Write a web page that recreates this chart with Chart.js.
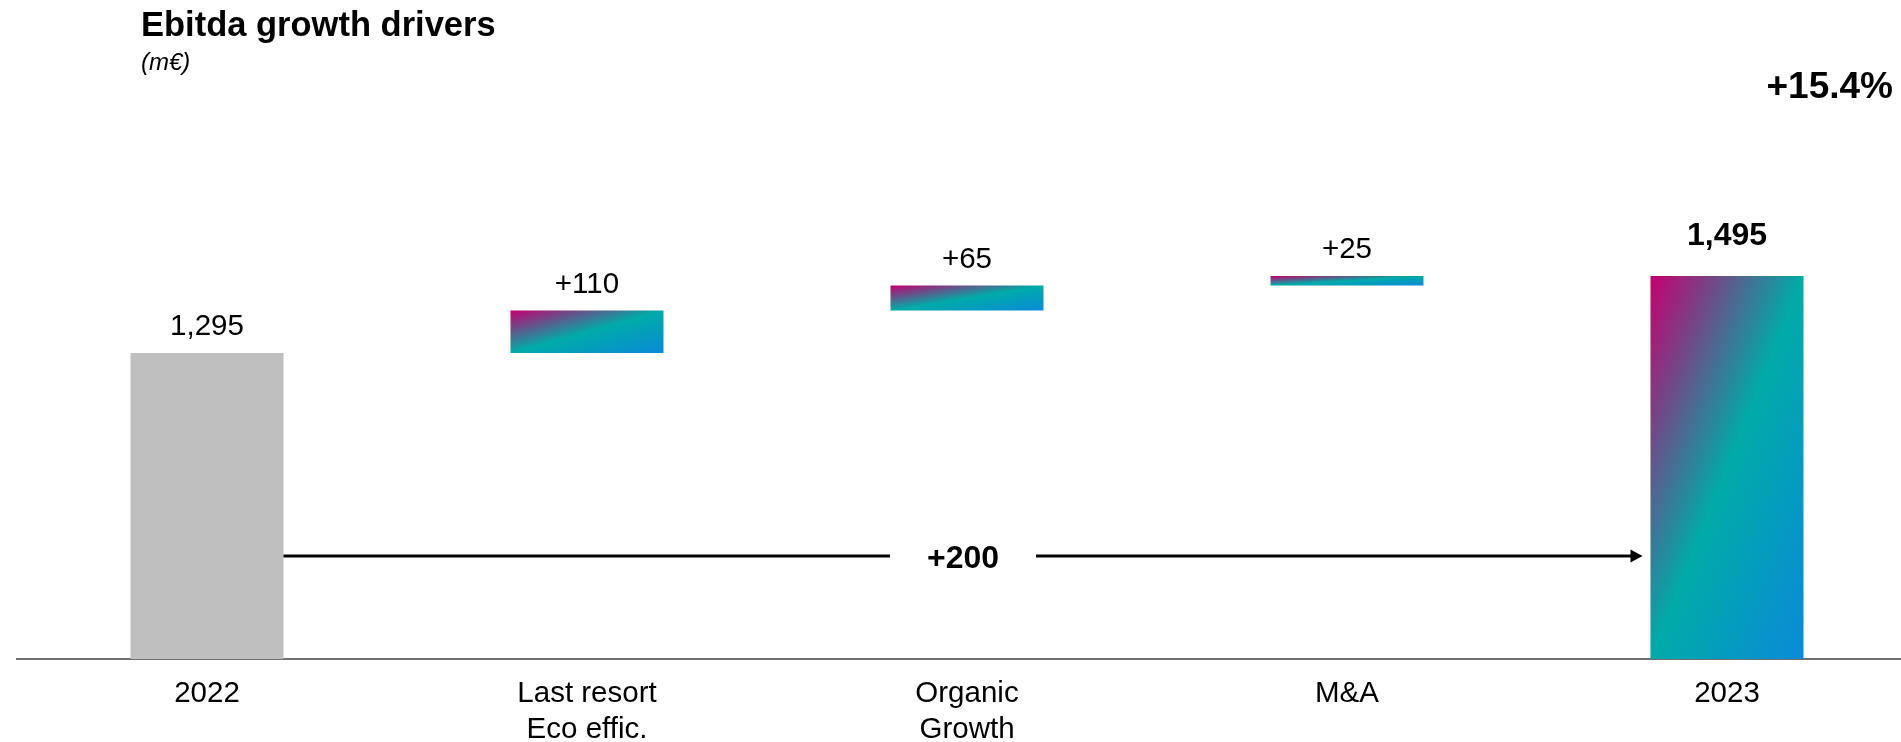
<!DOCTYPE html>
<html>
<head>
<meta charset="utf-8">
<title>Ebitda growth drivers</title>
<script src="https://cdn.jsdelivr.net/npm/chart.js@4/dist/chart.umd.min.js"></script>
<style>
  html, body { margin: 0; padding: 0; background: #fff; overflow: hidden; }
  #wrap { position: relative; width: 1917px; height: 742px; }
</style>
</head>
<body>
<div id="wrap"><canvas id="bridge"></canvas></div>
<script>
// ---- data ----
const categories = ['2022', ['Last resort', 'Eco effic.'], ['Organic', 'Growth'], 'M&A', '2023'];
const openingValue = 1295;          // Ebitda 2022 (m€)
const closingValue = 1495;          // Ebitda 2023 (m€)
const drivers = [110, 65, 25];      // contributions of each growth driver (m€)

const FONT = '"Liberation Sans", Arial, Helvetica, sans-serif';
const BAR_PCT = 0.4026;
const fmt = v => v.toLocaleString('en-US');

// floating segments for the drivers, full bars for the two years
const barData = [openingValue];
let running = openingValue;
drivers.forEach(d => { barData.push([running, running + d]); running += d; });
barData.push(closingValue);

const valueLabels = [fmt(openingValue), ...drivers.map(d => '+' + d), fmt(closingValue)];

// diagonal magenta -> teal -> blue fill, teal running along the anti-diagonal of each bar
function barFill(ctx) {
  const i = ctx.dataIndex;
  if (i === 0) return '#BFBFBF';
  const chart = ctx.chart;
  const xs = chart.scales.x, ys = chart.scales.y;
  if (!xs || !ys || !chart.chartArea) return '#00A9A7';
  const raw = ctx.raw;
  const lo = Array.isArray(raw) ? Math.min(raw[0], raw[1]) : ys.min;
  const hi = Array.isArray(raw) ? Math.max(raw[0], raw[1]) : raw;
  const w = xs.width / categories.length * BAR_PCT;
  const x0 = xs.getPixelForValue(i) - w / 2;
  const y0 = ys.getPixelForValue(hi);
  const h = Math.max(1, ys.getPixelForValue(lo) - y0);
  const t = 2 * w * h / (w * w + h * h);
  const g = chart.ctx.createLinearGradient(x0, y0, x0 + h * t, y0 + w * t);
  g.addColorStop(0, '#C5006F');
  g.addColorStop(0.5, '#00ABA8');
  g.addColorStop(1, '#0A8AD9');
  return g;
}

// value labels, total-change connector, growth rate and headings
const bridgeAnnotations = {
  id: 'bridgeAnnotations',
  afterDatasetsDraw(chart, args, opts) {
    const c = chart.ctx;
    const meta = chart.getDatasetMeta(0);
    const ys = chart.scales.y;
    const n = meta.data.length;
    c.save();
    c.fillStyle = '#000';
    c.textBaseline = 'alphabetic';

    // labels above each bar
    c.textAlign = 'center';
    meta.data.forEach((bar, i) => {
      const last = i === n - 1;
      c.font = (last ? 'bold 32px ' : '29.5px ') + FONT;
      const top = Math.min(bar.y, bar.base);
      c.fillText(valueLabels[i], bar.x, top - (last ? 31 : 18));
    });

    // connector arrow from 2022 to 2023 with the total change
    const first = meta.data[0], end = meta.data[n - 1];
    const yLine = Math.round(ys.getPixelForValue(opts.connectorLevel));
    const xStart = first.x + first.width / 2;
    const tipX = end.x - end.width / 2 - 8;
    const midX = (xStart + tipX) / 2;
    const change = '+' + (closingValue - openingValue);
    c.font = 'bold 32px ' + FONT;
    const gap = c.measureText(change).width / 2 + 37;
    c.strokeStyle = '#000';
    c.lineWidth = 3;
    c.beginPath();
    c.moveTo(xStart, yLine); c.lineTo(midX - gap, yLine);
    c.moveTo(midX + gap, yLine); c.lineTo(tipX - 10, yLine);
    c.stroke();
    c.beginPath();
    c.moveTo(tipX, yLine);
    c.lineTo(tipX - 12, yLine - 6.5);
    c.lineTo(tipX - 12, yLine + 6.5);
    c.closePath();
    c.fill();
    c.fillText(change, midX, yLine + 12);

    // growth rate
    const pct = (closingValue / openingValue - 1) * 100;
    c.font = 'bold 37px ' + FONT;
    c.textAlign = 'right';
    c.fillText('+' + pct.toFixed(1) + '%', 1893, 98);

    // headings
    c.textAlign = 'left';
    c.font = 'bold 34.5px ' + FONT;
    c.fillText('Ebitda growth drivers', 141, 36);
    c.font = 'italic 24px ' + FONT;
    c.fillText('(m€)', 141, 70);
    c.restore();
  }
};

new Chart(document.getElementById('bridge'), {
  type: 'bar',
  data: {
    labels: categories,
    datasets: [{
      data: barData,
      backgroundColor: barFill,
      borderWidth: 0,
      borderSkipped: false,
      categoryPercentage: 1,
      barPercentage: BAR_PCT
    }]
  },
  options: {
    responsive: true,
    maintainAspectRatio: false,
    animation: false,
    layout: { padding: { top: 274, left: 17, right: 0, bottom: 0 } },
    plugins: {
      legend: { display: false },
      tooltip: { enabled: false },
      bridgeAnnotations: { connectorLevel: 768 }
    },
    scales: {
      x: {
        grid: { display: false, drawTicks: false },
        border: { display: true, color: '#6f6f6f', width: 2 },
        ticks: {
          color: '#000',
          padding: 16,
          maxRotation: 0,
          autoSkip: false,
          font: { family: FONT, size: 29.5, lineHeight: 1.25 }
        },
        afterFit: s => { s.height = 83; }
      },
      y: {
        display: false,
        min: 500,
        max: 1500
      }
    }
  },
  plugins: [bridgeAnnotations]
});
</script>
</body>
</html>
